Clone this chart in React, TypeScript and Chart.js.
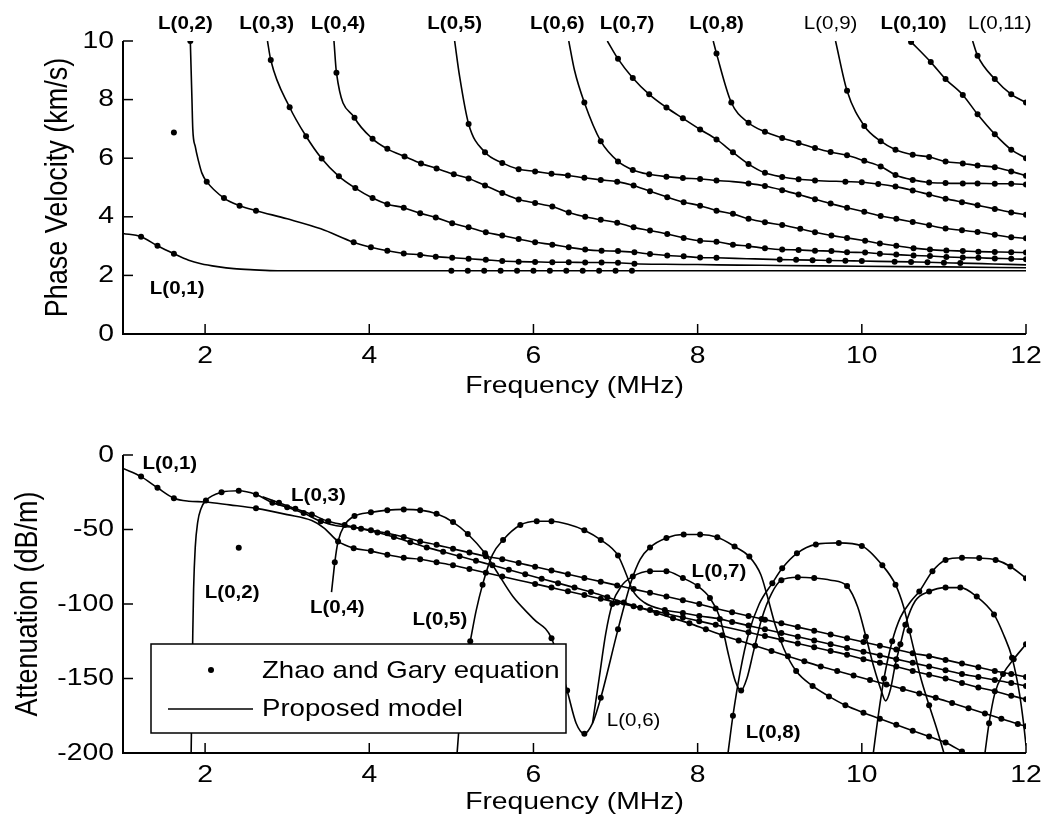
import React, { useEffect, useRef } from "react";
import { Chart, registerables } from "chart.js";
Chart.register(...registerables);

type P = [number, number, number];

// ---------- axis ticks ----------
const freqTicks = [2, 4, 6, 8, 10, 12];
const velTicks = [0, 2, 4, 6, 8, 10];
const attTicks = [0, -50, -100, -150, -200];

// ---------- Phase velocity (km/s): [frequency MHz, velocity, 1 = Zhao & Gary point] ----------
const velL1: P[] = [[1.0,3.43,0],[1.22,3.32,1],[1.42,3.01,1],[1.62,2.74,1],[1.8,2.52,0],[1.95,2.4,0],[2.15,2.3,0],[2.35,2.23,0],[2.6,2.19,0],[2.88,2.16,0],[4.0,2.16,0],[5.0,2.16,1],[5.2,2.16,1],[5.4,2.16,1],[5.6,2.16,1],[5.8,2.16,1],[6.0,2.16,1],[6.2,2.16,1],[6.4,2.16,1],[6.6,2.16,1],[6.8,2.16,1],[7.0,2.16,1],[7.2,2.16,1],[9.0,2.16,0],[12.0,2.16,0]];
const velL2: P[] = [[1.82,10,1],[1.83,9.0,0],[1.84,8.0,0],[1.85,7.0,0],[1.88,6.4,0],[1.92,5.9,0],[1.96,5.5,0],[2.02,5.2,1],[2.23,4.64,1],[2.42,4.38,1],[2.62,4.21,1],[3.0,3.93,0],[3.41,3.59,0],[3.81,3.13,1],[4.02,2.96,1],[4.22,2.84,1],[4.42,2.75,1],[4.62,2.7,1],[4.81,2.64,1],[5.01,2.6,1],[5.21,2.57,1],[5.42,2.53,1],[5.62,2.49,1],[5.82,2.47,1],[6.02,2.46,1],[6.23,2.45,1],[6.43,2.45,1],[6.63,2.44,1],[6.83,2.44,1],[7.03,2.43,1],[7.23,2.4,1],[7.6,2.38,0],[8.0,2.37,0],[8.5,2.35,0],[9.0,2.34,0],[10.0,2.31,0],[11.0,2.29,0],[12.0,2.26,0]];
const velL3: P[] = [[2.76,10,0],[2.8,9.35,1],[3.03,7.74,1],[3.23,6.75,1],[3.42,5.99,1],[3.63,5.38,1],[3.83,4.98,1],[4.04,4.64,1],[4.22,4.43,1],[4.42,4.31,1],[4.62,4.12,1],[4.81,3.98,1],[5.01,3.78,1],[5.21,3.64,1],[5.42,3.47,1],[5.62,3.36,1],[5.82,3.24,1],[6.02,3.13,1],[6.23,3.05,1],[6.43,2.96,1],[6.63,2.88,1],[6.83,2.84,1],[7.03,2.83,1],[7.23,2.79,1],[7.42,2.73,1],[7.63,2.68,1],[7.83,2.65,1],[8.03,2.61,1],[8.23,2.6,1],[8.6,2.57,0],[9.0,2.54,1],[9.2,2.53,1],[9.4,2.52,1],[9.6,2.51,1],[9.8,2.5,1],[10.0,2.49,1],[10.4,2.47,1],[10.6,2.46,1],[10.8,2.45,1],[11.0,2.43,1],[11.2,2.42,1],[11.6,2.39,0],[12.0,2.36,0]];
const velL4: P[] = [[3.57,10,0],[3.6,8.92,1],[3.82,7.38,1],[4.04,6.66,1],[4.22,6.32,1],[4.43,6.06,1],[4.63,5.82,1],[4.82,5.65,1],[5.03,5.45,1],[5.21,5.31,1],[5.41,5.07,1],[5.62,4.81,1],[5.82,4.59,1],[6.02,4.47,1],[6.23,4.35,1],[6.43,4.15,1],[6.63,4.0,1],[6.82,3.9,1],[7.02,3.8,1],[7.22,3.64,1],[7.42,3.53,1],[7.63,3.41,1],[7.83,3.28,1],[8.03,3.18,1],[8.23,3.15,1],[8.43,3.05,1],[8.62,3.0,1],[8.82,2.93,1],[9.03,2.88,1],[9.23,2.87,1],[9.43,2.84,1],[9.63,2.83,1],[9.82,2.79,1],[10.04,2.78,1],[10.22,2.74,1],[10.42,2.71,1],[10.63,2.68,1],[10.83,2.66,1],[11.03,2.63,1],[11.23,2.61,1],[11.42,2.6,1],[11.62,2.58,1],[11.82,2.57,1],[12.0,2.55,1]];
const velL5: P[] = [[5.04,10,0],[5.1,8.8,0],[5.21,7.17,1],[5.41,6.2,1],[5.62,5.84,1],[5.82,5.62,1],[6.02,5.55,1],[6.22,5.47,1],[6.42,5.41,1],[6.62,5.33,1],[6.82,5.26,1],[7.02,5.2,1],[7.22,5.07,1],[7.42,4.87,1],[7.63,4.67,1],[7.83,4.5,1],[8.03,4.38,1],[8.23,4.21,1],[8.43,4.1,1],[8.62,3.93,1],[8.82,3.81,1],[9.03,3.72,1],[9.25,3.59,1],[9.43,3.47,1],[9.63,3.36,1],[9.82,3.28,1],[10.04,3.18,1],[10.22,3.09,1],[10.42,3.01,1],[10.63,2.93,1],[10.83,2.88,1],[11.03,2.85,1],[11.23,2.83,1],[11.42,2.81,1],[11.62,2.8,1],[11.82,2.79,1],[12.0,2.78,1]];
const velL6: P[] = [[6.43,10,0],[6.5,9.0,0],[6.62,7.9,1],[6.82,6.58,1],[7.03,5.89,1],[7.21,5.6,1],[7.41,5.45,1],[7.62,5.37,1],[7.82,5.32,1],[8.03,5.29,1],[8.23,5.24,1],[8.43,5.2,0],[8.62,5.14,1],[8.82,5.05,1],[9.03,4.91,1],[9.23,4.76,1],[9.43,4.6,1],[9.62,4.45,1],[9.82,4.31,1],[10.03,4.17,1],[10.23,4.03,1],[10.42,3.93,1],[10.62,3.82,1],[10.82,3.71,1],[11.02,3.6,1],[11.22,3.54,1],[11.41,3.48,1],[11.62,3.39,1],[11.82,3.3,1],[12.0,3.27,1]];
const velL7: P[] = [[6.9,10,0],[7.03,9.39,1],[7.21,8.74,1],[7.41,8.18,1],[7.62,7.73,1],[7.82,7.36,1],[8.03,6.98,1],[8.23,6.64,1],[8.43,6.2,1],[8.62,5.8,1],[8.82,5.5,1],[9.03,5.36,1],[9.23,5.28,1],[9.43,5.24,1],[9.8,5.2,1],[10.0,5.18,1],[10.2,5.12,1],[10.41,5.03,1],[10.62,4.9,1],[10.82,4.76,1],[11.02,4.62,1],[11.22,4.5,1],[11.41,4.39,1],[11.62,4.27,1],[11.82,4.15,1],[12.0,4.07,1]];
const velL8: P[] = [[8.19,10,0],[8.23,9.57,1],[8.41,7.9,1],[8.62,7.21,1],[8.82,6.9,1],[9.03,6.69,1],[9.23,6.52,1],[9.43,6.35,1],[9.62,6.21,1],[9.82,6.1,1],[10.03,5.91,1],[10.23,5.72,1],[10.41,5.43,1],[10.62,5.26,1],[10.82,5.17,1],[11.02,5.15,1],[11.23,5.14,1],[11.41,5.14,1],[11.62,5.13,1],[11.82,5.13,1],[12.0,5.1,1]];
const velL9: P[] = [[9.68,10,0],[9.82,8.3,1],[10.03,7.1,1],[10.23,6.58,1],[10.41,6.29,1],[10.62,6.12,1],[10.82,6.04,1],[11.02,5.89,1],[11.23,5.82,1],[11.41,5.75,1],[11.62,5.69,1],[11.82,5.55,1],[12.0,5.4,1]];
const velL10: P[] = [[10.6,9.97,1],[10.84,9.28,1],[11.02,8.7,1],[11.23,8.16,1],[11.41,7.5,1],[11.62,6.82,1],[11.82,6.29,1],[12.0,6.0,1]];
const velL11: P[] = [[11.35,10,0],[11.41,9.5,1],[11.62,8.7,1],[11.82,8.18,1],[12.0,7.9,1]];
const velExtraDots: [number, number][] = [[1.62, 6.88]];

// ---------- Attenuation (dB/m) ----------
const attL1: P[] = [[1.0,-9,0],[1.22,-14.5,1],[1.42,-22,1],[1.62,-29,1],[1.8,-31,0],[2.0,-31.5,0],[2.3,-33.5,0],[2.62,-35.8,1],[3.0,-40,0],[3.3,-44,0],[3.45,-49,0],[3.62,-58,1],[3.81,-62.5,1],[4.02,-64.5,1],[4.22,-67,1],[4.42,-69,1],[4.62,-70,1],[4.82,-72,1],[5.02,-74,1],[5.22,-76.5,1],[5.42,-79,1],[5.62,-81.5,1],[5.82,-84,0],[6.02,-86.5,1],[6.22,-89,1],[6.42,-91.5,1],[6.62,-94,1],[6.82,-96.5,1],[7.02,-99,1],[7.22,-101.5,1],[7.42,-104,1],[7.62,-106.5,1],[7.82,-109,1],[8.02,-111.5,1],[8.22,-114,1],[8.42,-116.5,0],[8.62,-119,1],[8.82,-121.5,1],[9.02,-124,1],[9.22,-126.5,1],[9.42,-129,1],[9.62,-131.5,1],[9.82,-134,1],[10.02,-137,1],[10.22,-139.5,1],[10.42,-142,1],[10.62,-145,1],[10.82,-147.5,1],[11.02,-150,1],[11.22,-153,1],[11.42,-156,1],[11.62,-158.5,1],[11.82,-161.5,1],[12.0,-164,1]];
const attL2: P[] = [[1.83,-200,0],[1.84,-160,0],[1.85,-120,0],[1.86,-90,0],[1.88,-62,0],[1.91,-45,0],[1.95,-36,0],[2.01,-30.5,1],[2.2,-25,1],[2.41,-24,1],[2.62,-26.5,1],[2.82,-32,1],[3.0,-35,1],[3.2,-39,1],[3.41,-44.5,1],[3.6,-47.5,0],[3.81,-48.5,1],[4.02,-50.5,1],[4.22,-52.5,1],[4.42,-55,1],[4.62,-58,1],[4.82,-60.3,1],[5.02,-63,1],[5.22,-65.5,1],[5.42,-68,1],[5.62,-70,1],[5.82,-72.5,1],[6.02,-75,1],[6.22,-77.5,1],[6.42,-80,1],[6.62,-82.5,1],[6.82,-85,1],[7.02,-87.5,1],[7.22,-90,1],[7.42,-92.5,1],[7.62,-95,1],[7.82,-97.5,1],[8.02,-100,1],[8.22,-103,1],[8.42,-105.5,1],[8.62,-108,1],[8.82,-110.5,1],[9.02,-113,1],[9.22,-115.5,1],[9.42,-118,1],[9.62,-120.5,1],[9.82,-123,1],[10.02,-125.5,1],[10.22,-128,1],[10.42,-130.5,1],[10.62,-133,1],[10.82,-135,1],[11.02,-137.5,1],[11.22,-140,1],[11.42,-142.5,1],[11.62,-145,1],[11.82,-147,1],[12.0,-149,1]];
const attL3: P[] = [[2.7,-28,0],[2.9,-32,1],[3.1,-36,1],[3.3,-40,1],[3.5,-44.5,1],[3.7,-47,1],[3.9,-49.5,1],[4.1,-52,1],[4.3,-55,1],[4.5,-58.5,1],[4.7,-62,1],[4.9,-65,1],[5.1,-68,1],[5.3,-71,1],[5.5,-74,1],[5.7,-77,1],[5.9,-80,1],[6.1,-83,1],[6.3,-86,1],[6.5,-89,1],[6.7,-92,1],[6.9,-95.5,1],[7.1,-99,1],[7.3,-102.5,1],[7.5,-106,1],[7.7,-109.5,1],[7.9,-113,1],[8.1,-117,1],[8.3,-121,1],[8.5,-124.5,1],[8.7,-128,1],[8.9,-131.5,1],[9.1,-135,1],[9.3,-138.5,1],[9.5,-142,1],[9.7,-145,1],[9.9,-148,1],[10.1,-151,1],[10.3,-154,1],[10.5,-157,1],[10.7,-160,1],[10.9,-163,1],[11.1,-166.5,1],[11.3,-170,1],[11.5,-173.5,1],[11.7,-177,1],[11.9,-180.5,1],[12.0,-182,1]];
const attL4: P[] = [[3.54,-92,0],[3.56,-82,0],[3.58,-72,1],[3.62,-58,0],[3.7,-47,0],[3.82,-41,1],[4.02,-38.5,1],[4.22,-37,1],[4.42,-36.5,1],[4.62,-37,1],[4.82,-39.5,1],[5.02,-45,1],[5.2,-53,1],[5.41,-66,1],[5.55,-78,0],[5.75,-95,0],[6.0,-110,0],[6.22,-123,1],[6.41,-158,1],[6.52,-180,0],[6.62,-187,1],[6.72,-180,0],[6.82,-163,1],[7.03,-117,1],[7.19,-85,0],[7.3,-70,0],[7.42,-62,1],[7.62,-55.7,1],[7.83,-53.4,1],[8.03,-53.4,1],[8.24,-55.2,1],[8.45,-61.4,1],[8.63,-68.2,1],[8.77,-80.4,0],[8.85,-95,0],[8.95,-115,0],[9.05,-130,0],[9.2,-145,1],[9.4,-155,1],[9.6,-162,1],[9.8,-168,1],[10.02,-173,1],[10.22,-177,1],[10.42,-181,1],[10.62,-185,1],[10.82,-189,1],[11.02,-193,1],[11.22,-199,1]];
const attL5: P[] = [[5.07,-200,0],[5.12,-165,0],[5.18,-138,0],[5.23,-125,1],[5.3,-105,0],[5.38,-87,1],[5.5,-67,0],[5.63,-57,1],[5.84,-47,1],[6.04,-44.5,1],[6.22,-44.5,1],[6.42,-46.5,0],[6.62,-50.5,1],[6.82,-57,1],[7.03,-67.5,1],[7.13,-80,0],[7.21,-91,0],[7.35,-99,0],[7.6,-104,1],[7.82,-106,1],[8.02,-108,1],[8.27,-110,1],[8.42,-112,1],[8.62,-114.5,1],[8.82,-117,1],[9.02,-119.5,1],[9.22,-122,1],[9.42,-124.5,1],[9.62,-127,1],[9.82,-129.5,1],[10.02,-132,1],[10.22,-134.5,1],[10.42,-137,1],[10.62,-139.5,1],[10.82,-142,1],[11.02,-144.5,1],[11.22,-147,1],[11.42,-149,1],[11.62,-151,1],[11.82,-153,1],[12.0,-155,1]];
const attL7: P[] = [[6.72,-180,0],[6.8,-150,0],[6.88,-120,0],[6.96,-100,1],[7.07,-88,0],[7.21,-81.5,1],[7.42,-78,1],[7.62,-78,1],[7.82,-82.6,1],[8.0,-88,1],[8.15,-96,1],[8.27,-109,0],[8.38,-135,0],[8.46,-152,0],[8.53,-158,1],[8.6,-150,0],[8.68,-132,0],[8.78,-110,1],[8.9,-93,0],[9.02,-84,1],[9.22,-82,1],[9.42,-82.5,1],[9.62,-84,0],[9.82,-88,1],[9.95,-102,0],[10.05,-122,1],[10.15,-143,0],[10.23,-157,0],[10.29,-165,0],[10.35,-157,0],[10.41,-140,0],[10.47,-127,1],[10.53,-114,1],[10.65,-98,0],[10.82,-91.6,1],[11.02,-89,1],[11.2,-89,1],[11.4,-95,1],[11.61,-107,1],[11.73,-121,0],[11.83,-136,1],[11.92,-160,0],[11.97,-180,0],[12.0,-195,0]];
const attL8: P[] = [[8.37,-200,0],[8.43,-175,1],[8.52,-145,0],[8.62,-120,0],[8.75,-100,0],[8.91,-86,1],[9.03,-76,1],[9.21,-66,1],[9.44,-60,1],[9.72,-59,1],[10.0,-61,1],[10.25,-74,1],[10.41,-87,1],[10.51,-102,0],[10.58,-118,1],[10.64,-132,0],[10.72,-150,0],[10.82,-168,1],[10.92,-185,0],[11.0,-200,0]];
const attL9: P[] = [[10.14,-200,0],[10.2,-175,0],[10.27,-150,1],[10.37,-125,1],[10.47,-109,0],[10.6,-98,0],[10.7,-91.6,1],[10.86,-78,1],[11.02,-70.4,1],[11.22,-69,1],[11.43,-69.2,1],[11.63,-70.4,1],[11.81,-74.8,1],[12.0,-82.7,1]];
const attL10: P[] = [[11.5,-200,0],[11.55,-180,1],[11.62,-160,0],[11.72,-147,1],[11.85,-137,1],[12.0,-127,1]];
const attExtraDots: [number, number][] = [[2.41, -62.3]];

// ---------- mode labels (data coordinates) ----------
const velLabels = [
  { t: "L(0,1)", x: 1.66, y: 1.54, b: true },
  { t: "L(0,2)", x: 1.76, y: 10.58, b: true },
  { t: "L(0,3)", x: 2.75, y: 10.58, b: true },
  { t: "L(0,4)", x: 3.62, y: 10.58, b: true },
  { t: "L(0,5)", x: 5.04, y: 10.58, b: true },
  { t: "L(0,6)", x: 6.29, y: 10.58, b: true },
  { t: "L(0,7)", x: 7.14, y: 10.58, b: true },
  { t: "L(0,8)", x: 8.23, y: 10.58, b: true },
  { t: "L(0,9)", x: 9.62, y: 10.58, b: false },
  { t: "L(0,10)", x: 10.63, y: 10.58, b: true },
  { t: "L(0,11)", x: 11.68, y: 10.58, b: false },
];
const attLabels = [
  { t: "L(0,1)", x: 1.57, y: -6, b: true },
  { t: "L(0,3)", x: 3.38, y: -27.5, b: true },
  { t: "L(0,2)", x: 2.33, y: -92.6, b: true },
  { t: "L(0,4)", x: 3.61, y: -102.7, b: true },
  { t: "L(0,5)", x: 4.86, y: -110.7, b: true },
  { t: "L(0,6)", x: 7.22, y: -178.5, b: false },
  { t: "L(0,7)", x: 8.26, y: -78.5, b: true },
  { t: "L(0,8)", x: 8.92, y: -186.6, b: true },
];

const legendLabels = ["Zhao and Gary equation", "Proposed model"];

const velModes = [velL1, velL2, velL3, velL4, velL5, velL6, velL7, velL8, velL9, velL10, velL11];
const attModes = [attL1, attL2, attL3, attL4, attL5, attL7, attL8, attL9, attL10];

const FONT = '"Liberation Sans", Arial, Helvetica, sans-serif';
const SX = 1.18;

function buildDatasets(modes: P[][], extra: [number, number][]) {
  const ds: any[] = modes.map((m) => ({
    type: "line",
    data: m.map((p) => ({ x: p[0], y: p[1] })),
    borderColor: "#000",
    borderWidth: 1.6,
    pointRadius: 0,
    fill: false,
    cubicInterpolationMode: "monotone",
  }));
  const dots = modes.flatMap((m) => m.filter((p) => p[2] === 1).map((p) => ({ x: p[0], y: p[1] })));
  extra.forEach((e) => dots.push({ x: e[0], y: e[1] }));
  ds.push({
    type: "scatter",
    data: dots,
    showLine: false,
    pointRadius: 3,
    pointHoverRadius: 3,
    pointBackgroundColor: "#000",
    pointBorderWidth: 0,
    pointStyle: "circle",
  });
  return ds;
}

function txt(ctx: CanvasRenderingContext2D, s: string, x: number, y: number, font: string, align: CanvasTextAlign, rot = 0, sx = SX) {
  ctx.save();
  ctx.translate(x, y);
  ctx.scale(sx, 1);
  if (rot) ctx.rotate(rot);
  ctx.font = font;
  ctx.fillStyle = "#000";
  ctx.textAlign = align;
  ctx.textBaseline = "middle";
  ctx.fillText(s, 0, 0);
  ctx.restore();
}

const decor = {
  id: "decor",
  afterDraw(chart: any, _args: any, o: any) {
    const ctx: CanvasRenderingContext2D = chart.ctx;
    const xs = chart.scales.x;
    const ys = chart.scales.y;
    const a = chart.chartArea;
    ctx.save();
    // legend box (opaque)
    if (o.legend) {
      const lx = 151, ly = a.top + 189, lw = 415, lh = 89;
      ctx.fillStyle = "#fff";
      ctx.fillRect(lx, ly, lw, lh);
      ctx.strokeStyle = "#000";
      ctx.lineWidth = 1.5;
      ctx.strokeRect(lx, ly, lw, lh);
      ctx.fillStyle = "#000";
      ctx.beginPath();
      ctx.arc(lx + 60, ly + 26, 3, 0, Math.PI * 2);
      ctx.fill();
      ctx.lineWidth = 1.6;
      ctx.beginPath();
      ctx.moveTo(lx + 17, ly + 65);
      ctx.lineTo(lx + 102, ly + 65);
      ctx.stroke();
      txt(ctx, legendLabels[0], lx + 111, ly + 27, `24px ${FONT}`, "left", 0, 1.15);
      txt(ctx, legendLabels[1], lx + 111, ly + 65, `24px ${FONT}`, "left", 0, 1.15);
    }
    // axes
    ctx.strokeStyle = "#000";
    ctx.lineWidth = 2;
    ctx.beginPath();
    ctx.moveTo(a.left, a.top);
    ctx.lineTo(a.left, a.bottom);
    ctx.lineTo(a.right, a.bottom);
    ctx.stroke();
    ctx.lineWidth = 1.5;
    o.xTicks.forEach((v: number) => {
      const px = xs.getPixelForValue(v);
      ctx.beginPath();
      ctx.moveTo(px, a.bottom);
      ctx.lineTo(px, a.bottom - 10);
      ctx.stroke();
      txt(ctx, String(v), px, a.bottom + o.tickOff, `24px ${FONT}`, "center");
    });
    o.yTicks.forEach((v: number) => {
      const py = ys.getPixelForValue(v);
      ctx.beginPath();
      ctx.moveTo(a.left, py);
      ctx.lineTo(a.left + 10, py);
      ctx.stroke();
      txt(ctx, String(v), a.left - 9, py, `24px ${FONT}`, "right");
    });
    txt(ctx, o.xTitle, (a.left + a.right) / 2, a.bottom + o.titleOff, `24px ${FONT}`, "center");
    txt(ctx, o.yTitle, o.yTitleX, (a.top + a.bottom) / 2, `27px ${FONT}`, "center", -Math.PI / 2);
    o.labels.forEach((l: any) => {
      txt(ctx, l.t, xs.getPixelForValue(l.x), ys.getPixelForValue(l.y), `${l.b ? "bold " : ""}19px ${FONT}`, "center", 0, 1.08);
    });
    ctx.restore();
  },
};

function makeConfig(modes: P[][], extra: [number, number][], ymin: number, ymax: number, pad: any, o: any) {
  return {
    type: "line",
    data: { datasets: buildDatasets(modes, extra) },
    options: {
      animation: false,
      responsive: false,
      events: [],
      layout: { padding: pad },
      scales: {
        x: { type: "linear", min: 1, max: 12, display: false },
        y: { type: "linear", min: ymin, max: ymax, display: false },
      },
      plugins: { legend: { display: false }, tooltip: { enabled: false }, decor: o },
    },
    plugins: [decor],
  } as any;
}

export default function App() {
  const r1 = useRef<HTMLCanvasElement>(null);
  const r2 = useRef<HTMLCanvasElement>(null);
  useEffect(() => {
    const c1 = new Chart(
      r1.current!,
      makeConfig(velModes, velExtraDots, 0, 10, { left: 123, right: 21, top: 41, bottom: 81 }, {
        xTicks: freqTicks, yTicks: velTicks, xTitle: "Frequency (MHz)", yTitle: "Phase Velocity (km/s)", yTitleX: 58,
        labels: velLabels, legend: false, tickOff: 22, titleOff: 52,
      })
    );
    const c2 = new Chart(
      r2.current!,
      makeConfig(attModes, attExtraDots, -200, 0, { left: 123, right: 21, top: 40, bottom: 74 }, {
        xTicks: freqTicks, yTicks: attTicks, xTitle: "Frequency (MHz)", yTitle: "Attenuation (dB/m)", yTitleX: 28,
        labels: attLabels, legend: true, tickOff: 22, titleOff: 49,
      })
    );
    return () => {
      c1.destroy();
      c2.destroy();
    };
  }, []);
  return (
    <div style={{ position: "absolute", left: 0, top: 0, width: 1047, height: 827, background: "#fff" }}>
      <canvas ref={r1} width={1047} height={415} style={{ position: "absolute", left: 0, top: 0 }} />
      <canvas ref={r2} width={1047} height={412} style={{ position: "absolute", left: 0, top: 415 }} />
    </div>
  );
}
